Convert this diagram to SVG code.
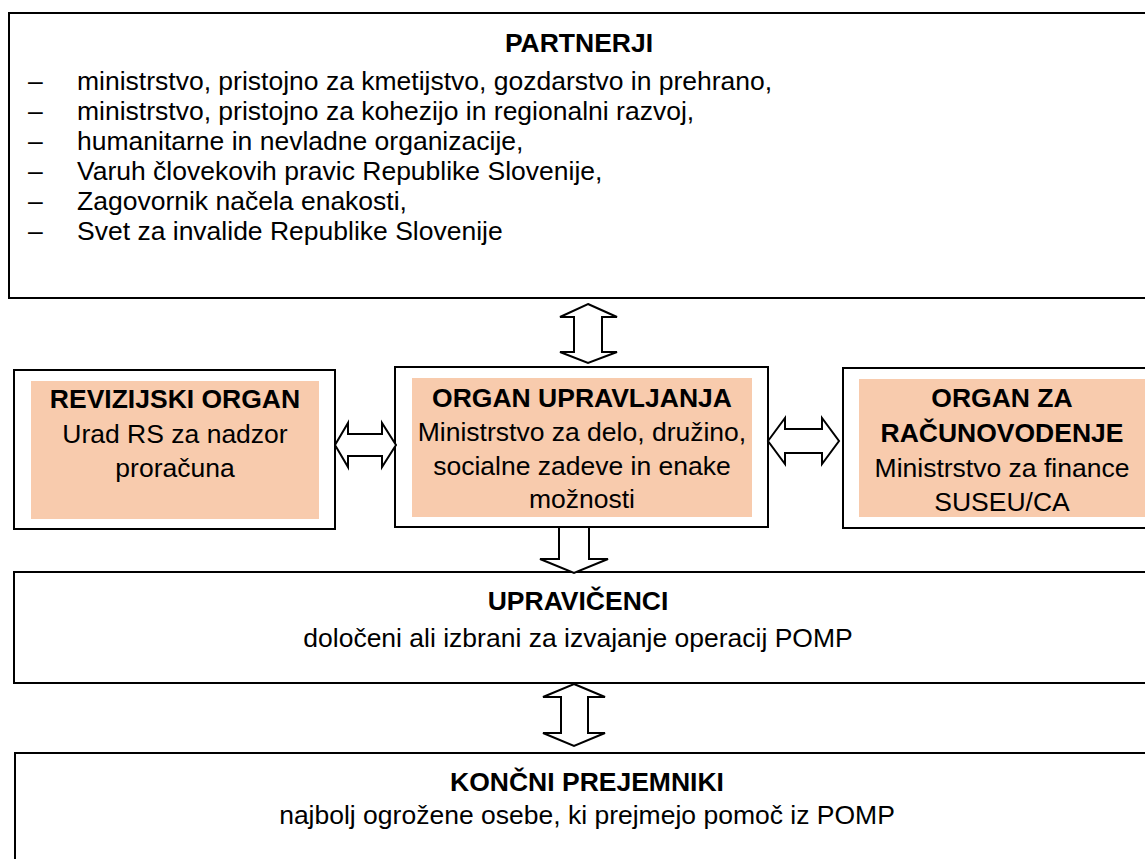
<svg xmlns="http://www.w3.org/2000/svg" width="1145" height="859" viewBox="0 0 1145 859">
<style>
text{font-family:"Liberation Sans",Arial,sans-serif;font-size:26.5px;fill:#000}
.b{font-weight:bold}
.c{text-anchor:middle}
.box{fill:#fff;stroke:#000;stroke-width:2}
.fill{fill:#F8CBAD}
.arr{fill:#fff;stroke:#000;stroke-width:2;stroke-linejoin:miter}
</style>
<rect width="1145" height="859" fill="#fff"/>
<g id="partnerji">
<rect class="box" x="9" y="13" width="1145" height="285"/>
<text class="b c" x="579" y="52">PARTNERJI</text>
<text x="28" y="90">–</text><text x="77" y="90">ministrstvo, pristojno za kmetijstvo, gozdarstvo in prehrano,</text>
<text x="28" y="120">–</text><text x="77" y="120">ministrstvo, pristojno za kohezijo in regionalni razvoj,</text>
<text x="28" y="150">–</text><text x="77" y="150">humanitarne in nevladne organizacije,</text>
<text x="28" y="180">–</text><text x="77" y="180">Varuh človekovih pravic Republike Slovenije,</text>
<text x="28" y="210">–</text><text x="77" y="210">Zagovornik načela enakosti,</text>
<text x="28" y="240">–</text><text x="77" y="240">Svet za invalide Republike Slovenije</text>
</g>
<g id="revizijski">
<rect class="box" x="14" y="370" width="321" height="159"/>
<rect class="fill" x="31" y="381" width="288" height="138"/>
<text class="b c" x="175" y="408">REVIZIJSKI ORGAN</text>
<text class="c" x="175" y="443">Urad RS za nadzor</text>
<text class="c" x="175" y="477">proračuna</text>
</g>
<g id="upravljanje">
<rect class="box" x="395" y="367" width="373" height="160"/>
<rect class="fill" x="412" y="378" width="340" height="139"/>
<text class="b c" x="582" y="407">ORGAN UPRAVLJANJA</text>
<text class="c" x="582" y="441">Ministrstvo za delo, družino,</text>
<text class="c" x="582" y="475">socialne zadeve in enake</text>
<text class="c" x="582" y="508">možnosti</text>
</g>
<g id="racunovodenje">
<rect class="box" x="843" y="368" width="320" height="160"/>
<rect class="fill" x="859" y="379" width="286" height="138"/>
<text class="b c" x="1002" y="407">ORGAN ZA</text>
<text class="b c" x="1002" y="442">RAČUNOVODENJE</text>
<text class="c" x="1002" y="477">Ministrstvo za finance</text>
<text class="c" x="1002" y="511">SUSEU/CA</text>
</g>
<g id="upravicenci">
<rect class="box" x="14" y="572" width="1145" height="111"/>
<text class="b c" x="578" y="610">UPRAVIČENCI</text>
<text class="c" x="578" y="647">določeni ali izbrani za izvajanje operacij POMP</text>
</g>
<g id="koncni">
<rect class="box" x="15" y="753" width="1145" height="120"/>
<text class="b c" x="587" y="791">KONČNI PREJEMNIKI</text>
<text class="c" x="587" y="824">najbolj ogrožene osebe, ki prejmejo pomoč iz POMP</text>
</g>
<g id="connectors">
<polygon class="arr" points="588,304 617,317 602,317 602,352 617,352 588,363 560,352 574,352 574,317 560,317"/>
<polygon class="arr" points="335,445 348,423 348,434 382,434 382,423 396,445 382,467 382,456 348,456 348,467"/>
<polygon class="arr" points="768,441 785,418 785,429 822,429 822,418 839,441 822,464 822,453 785,453 785,464"/>
<polygon class="arr" points="559,527 589,527 589,559 608,559 574,573 540,559 559,559"/>
<polygon class="arr" points="574,684 605,697 588,697 588,733 605,733 574,746 543,733 561,733 561,697 543,697"/>
</g>
</svg>
